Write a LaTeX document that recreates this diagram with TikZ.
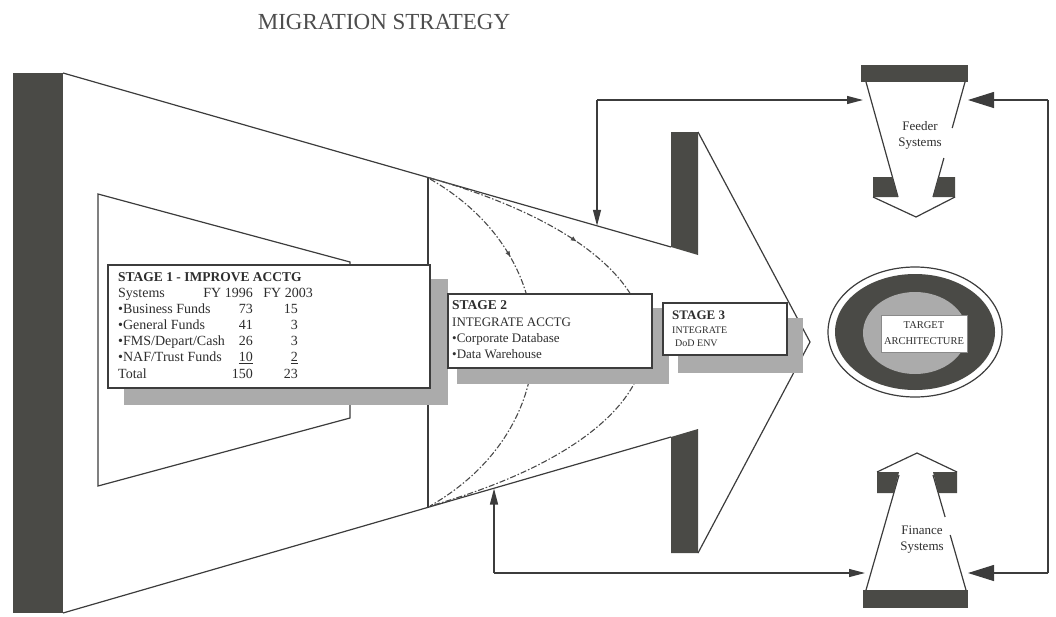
\documentclass[tikz,border=0pt]{standalone}
\usepackage{fontspec}
\setmainfont{Liberation Serif}
\usetikzlibrary{arrows.meta,decorations.markings}
\definecolor{dkc}{HTML}{4A4A46}
\definecolor{lnc}{HTML}{3C3C3C}
\definecolor{shc}{HTML}{ABABAB}
\definecolor{txc}{HTML}{2E2E2E}
\definecolor{cvc}{HTML}{4A4A4A}
\begin{document}
\begin{tikzpicture}[x=1pt,y=-1pt,
  ln/.style={draw=lnc, line width=1.2pt},
  shad/.style={fill=shc},
  stagebox/.style={draw=lnc, line width=1.7pt, fill=white},
  curv/.style={draw=cvc, line width=1.1pt, dash pattern=on 6pt off 2pt on 1.5pt off 2pt,
    postaction={decorate}, decoration={markings, mark=at position 0.28 with {\arrow{Latex[length=6pt,width=5pt]}}}},
  t14/.style={text=txc, inner sep=0pt, font=\fontsize{14pt}{16pt}\selectfont},
  t13/.style={text=txc, inner sep=0pt, font=\fontsize{13pt}{16pt}\selectfont},
  t10/.style={text=txc, inner sep=0pt, font=\fontsize{10pt}{12pt}\selectfont},
  smallarr/.style={ln, -{Triangle[length=16pt,width=8pt]}},
  bigarr/.style={ln, -{Triangle[length=26pt,width=16pt]}},
]
\useasboundingbox (0,0) rectangle (1056,616);

% title
\node[text=txc!85, font=\fontsize{23pt}{26pt}\selectfont] (title) at (384,22) {MIGRATION STRATEGY};

% named points
\coordinate (fTL) at (63,73);
\coordinate (fBL) at (63,613);
\coordinate (nT) at (671,247);
\coordinate (nB) at (671,437);
\coordinate (vT) at (428,177.4);
\coordinate (vB) at (428,507.3);
\coordinate (aT) at (698,132);
\coordinate (aB) at (698,553);
\coordinate (tip) at (810,342);

% left dark bar
\fill[dkc] (13,73) rectangle (63,613);
% funnel
\draw[ln] (fTL) -- (nT);
\draw[ln] (fBL) -- (nB);
\draw[ln] (vT) -- (vB);
% inner trapezoid
\draw[ln] (98,194) -- (350,262) -- (350,418) -- (98,486) -- cycle;
% notches
\fill[dkc] (671,132) -- (698,132) -- (698,255) -- (671,247) -- cycle;
\fill[dkc] (671,437) -- (698,429) -- (698,553) -- (671,553) -- cycle;
% arrow head
\draw[ln] (aT) -- (tip) -- (aB);

% dashed curves
\draw[curv] (430,179) .. controls (568,258) and (568,427) .. (430,506);
\draw[curv] (430,178) .. controls (717,260) and (717,424) .. (430,506);

% shadows
\fill[shad] (124,279) rectangle (448,405);
\fill[shad] (457,308) rectangle (669,384);
\fill[shad] (678,318) rectangle (803,373);

% stage boxes
\draw[stagebox] (108,265) rectangle (430,388);
\draw[stagebox] (448,294) rectangle (652,368);
\draw[stagebox] (663,303) rectangle (787,355);

% stage 1 text
\node[t14, anchor=base west, font=\fontsize{13.5pt}{16pt}\selectfont\bfseries] (s1t) at (118,281) {STAGE 1 - IMPROVE ACCTG};
\node[t14, anchor=base west] (s1h1) at (118,297) {Systems};
\node[t14, anchor=base east] (s1h2) at (253,297) {FY 1996};
\node[t14, anchor=base east] (s1h3) at (313,297) {FY 2003};
\node[t14, anchor=base west] (s1r1) at (118,313) {•Business Funds};
\node[t14, anchor=base east] (s1r1a) at (253,313) {73};
\node[t14, anchor=base east] (s1r1b) at (298,313) {15};
\node[t14, anchor=base west] (s1r2) at (118,329.3) {•General Funds};
\node[t14, anchor=base east] (s1r2a) at (253,329.3) {41};
\node[t14, anchor=base east] (s1r2b) at (298,329.3) {3};
\node[t14, anchor=base west] (s1r3) at (118,345.3) {•FMS/Depart/Cash};
\node[t14, anchor=base east] (s1r3a) at (253,345.3) {26};
\node[t14, anchor=base east] (s1r3b) at (298,345.3) {3};
\node[t14, anchor=base west] (s1r4) at (118,361.8) {•NAF/Trust Funds};
\node[t14, anchor=base east] (s1r4a) at (253,361.8) {\underline{10}};
\node[t14, anchor=base east] (s1r4b) at (298,361.8) {\underline{2}};
\node[t14, anchor=base west] (s1r5) at (118,378) {Total};
\node[t14, anchor=base east] (s1r5a) at (253,378) {150};
\node[t14, anchor=base east] (s1r5b) at (298,378) {23};

% stage 2 text
\node[t13, anchor=base west, font=\fontsize{13.5pt}{16pt}\selectfont\bfseries] (s2t) at (452,309.5) {STAGE 2};
\node[t13, anchor=base west] (s2a) at (452,326.3) {INTEGRATE ACCTG};
\node[t13, anchor=base west] (s2b) at (452,342.3) {•Corporate Database};
\node[t13, anchor=base west] (s2c) at (452,358.3) {•Data Warehouse};

% stage 3 text
\node[t13, anchor=base west, font=\fontsize{13pt}{16pt}\selectfont\bfseries] (s3t) at (672,319.5) {STAGE 3};
\node[t10, anchor=base west] (s3a) at (672,333.5) {INTEGRATE};
\node[t10, anchor=base west] (s3b) at (675,346.5) {DoD ENV};

% feeder systems
\fill[dkc] (861,65) rectangle (968,82);
\draw[ln] (866,82) -- (898,197);
\draw[ln] (965,82) -- (952.2,128);
\draw[ln] (943.9,158) -- (933,197);
\fill[dkc] (873,177) -- (892.4,177) -- (898,197) -- (873,197) -- cycle;
\fill[dkc] (938.6,177) -- (955,177) -- (955,197) -- (933,197) -- cycle;
\draw[ln] (873,197) -- (916,217) -- (955,197);
\node[text=txc, font=\fontsize{13pt}{16pt}\selectfont, align=center] (feeder) at (920,135) {Feeder\\Systems};

% finance systems
\fill[dkc] (863,590) rectangle (968,608);
\draw[ln] (866,590) -- (899,475);
\draw[ln] (966,590) -- (950.2,535);
\draw[ln] (945.1,517) -- (933,475);
\fill[dkc] (877,472) -- (899,472) -- (893.8,493) -- (877,493) -- cycle;
\fill[dkc] (933,472) -- (957,472) -- (957,493) -- (938.2,493) -- cycle;
\draw[ln] (877,472) -- (917,453) -- (957,472);
\node[text=txc, font=\fontsize{13pt}{16pt}\selectfont, align=center] (finance) at (922,540) {Finance\\Systems};

% target architecture
\draw[draw=lnc, line width=1.2pt, fill=white] (915,332) ellipse [x radius=87pt, y radius=65pt];
\fill[dkc] (915,332) ellipse [x radius=80pt, y radius=58pt];
\fill[shc] (915,333) ellipse [x radius=52pt, y radius=41pt];
\node[draw=lnc!60, line width=0.6pt, fill=white, minimum width=86pt, minimum height=37pt, inner sep=1pt,
  text=txc, font=\fontsize{10.5pt}{16pt}\selectfont, align=center] (target) at (924,333.5) {TARGET\\ARCHITECTURE};

% feedback connectors
\coordinate (c1) at (597,100);
\coordinate (c1e) at (597,225.8);
\coordinate (fdL) at (863,100);
\coordinate (fdR) at (968,100);
\coordinate (c2) at (494,573);
\coordinate (c2e) at (494,488.5);
\coordinate (fnL) at (865,573);
\coordinate (fnR) at (968,573);
\coordinate (r1) at (1048,100);
\coordinate (r2) at (1048,573);

\draw[smallarr] (c1) -- (fdL);
\draw[smallarr] (c1) -- (c1e);
\draw[smallarr] (c2) -- (c2e);
\draw[smallarr] (c2) -- (fnL);
\draw[ln] (r1) -- (r2);
\draw[bigarr] (r1) -- (fdR);
\draw[bigarr] (r2) -- (fnR);
\end{tikzpicture}
\end{document}
